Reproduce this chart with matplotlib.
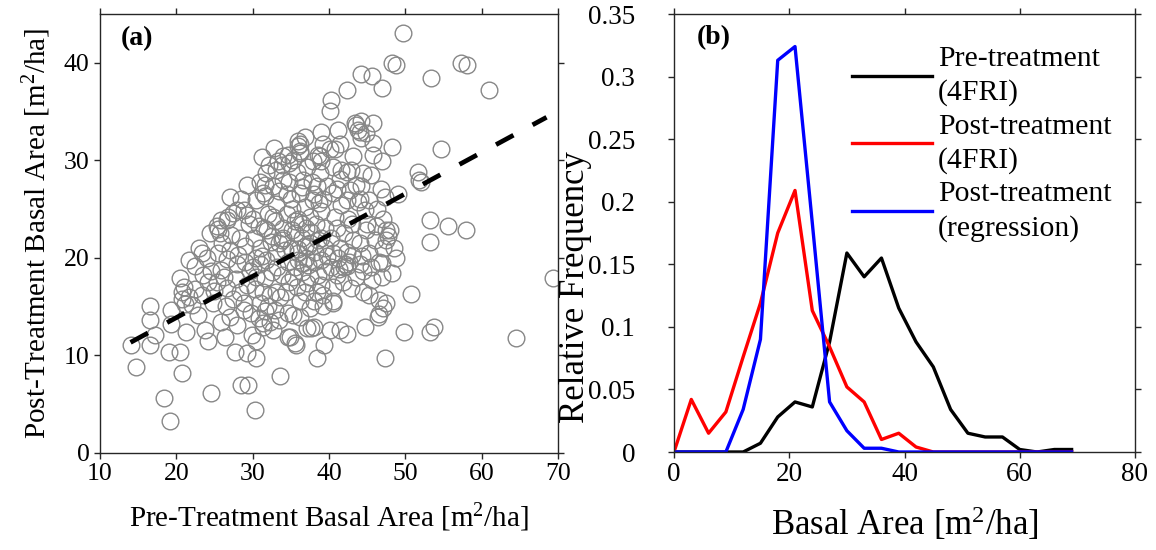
import matplotlib
matplotlib.use("Agg")
import matplotlib.pyplot as plt
from matplotlib.ticker import FuncFormatter

plt.rcParams['font.family'] = ['Liberation Serif', 'DejaVu Serif']
plt.rcParams['mathtext.fontset'] = 'custom'
plt.rcParams['mathtext.rm'] = 'Liberation Serif'
plt.rcParams['mathtext.it'] = 'Liberation Serif:italic'

# ---------------- Panel (a) data: pre vs post treatment basal area ----------------
pre_ba = [
    14.0, 14.7, 16.5, 16.5, 16.5, 17.2, 18.4, 19.2, 19.0, 20.5, 20.7, 19.3, 19.3, 21.3, 20.8,
    21.2, 20.7, 20.5, 21.0, 21.6, 22.4, 23.3, 22.0, 22.9, 23.7, 24.2, 23.5, 24.2, 24.6, 24.6,
    24.4, 25.5, 25.3, 21.6, 22.5, 23.0, 24.0, 24.8, 23.4, 25.3, 25.7,
    25.9, 26.6, 27.0, 28.1, 26.6, 27.4, 28.3, 29.2, 29.6, 26.4, 25.9, 27.0, 27.9, 27.7, 29.2,
    28.5, 29.4, 29.9, 28.8, 28.8, 25.8, 26.8, 27.4, 28.8, 26.0, 27.2, 28.4, 29.0, 29.5, 28.0,
    26.3, 27.8, 25.5, 28.5, 29.2, 27.0, 26.5, 29.8, 29.0, 25.0, 28.0, 29.3, 26.6,
    30.3, 30.5, 30.5, 31.4, 32.3, 31.6, 32.9, 33.6, 30.9, 30.9, 31.6, 31.4, 32.3, 33.1, 32.7,
    31.4, 34.9, 33.6, 34.4, 30.5, 31.4, 32.7, 34.0, 31.8, 33.1, 33.8, 34.6, 34.0, 30.2, 31.0,
    31.5, 32.0, 32.5, 33.0, 33.5, 34.0, 34.5, 33.0, 34.5, 30.5, 31.8, 32.5, 33.8, 34.6, 34.2,
    30.3, 32.0, 30.8, 33.4, 34.6, 34.8, 31.0, 32.2, 30.0, 33.5, 34.7, 32.8, 31.2, 30.5, 34.0,
    31.6, 31.6, 33.3, 32.7, 30.0, 31.2, 32.4, 33.2, 30.8, 31.9, 32.9, 33.9,
    35.7, 36.2, 37.7, 38.4, 38.1, 39.4, 35.5, 34.6, 35.3, 37.1, 39.2, 38.4, 37.1, 39.2, 36.8,
    36.2, 35.9, 38.5, 39.0, 36.2, 34.8, 37.1, 38.8, 36.6, 36.2, 38.4, 37.9, 39.0, 39.2, 38.8,
    36.0, 37.9, 35.3, 36.2, 39.7, 35.2, 36.0, 36.8, 37.5, 38.3, 39.0, 39.5, 35.5, 36.5, 37.5,
    38.5, 39.5, 35.0, 36.0, 37.0, 38.0, 39.0, 35.5, 36.5, 37.5, 38.5, 39.5, 35.8, 36.8, 38.0,
    36.2, 37.5, 35.5, 37.0, 38.0, 36.5, 35.8, 39.2, 37.8, 35.0, 39.8, 36.0, 37.2, 38.2, 36.8,
    35.3, 39.0, 35.2, 36.4, 37.6, 38.7, 35.9, 37.3, 38.9, 36.6,
    40.3, 40.1, 42.3, 44.2, 43.6, 43.8, 44.2, 44.9, 44.0, 43.4, 44.2, 41.2, 40.8, 41.4, 40.1,
    43.2, 42.9, 41.6, 41.4, 44.2, 42.7, 40.5, 42.3, 44.5, 40.5, 42.3, 41.6, 43.8, 44.7, 44.9,
    40.1, 41.4, 42.3, 40.5, 44.7, 42.9, 42.1, 41.0, 40.5, 44.0, 44.5, 42.3, 42.3, 40.2, 41.0,
    42.0, 43.0, 44.0, 40.5, 41.5, 43.2, 40.8, 42.5, 43.5, 41.0, 44.0, 40.5, 41.8, 43.5, 44.5,
    40.2, 43.0, 41.2, 44.3, 41.9, 42.6, 41.3,
    45.3, 46.6, 47.1, 45.6, 46.6, 47.5, 47.1, 46.4, 48.2, 49.8, 47.3, 45.6, 46.9, 48.2, 48.8,
    49.7, 45.8, 48.2, 46.9, 45.3, 47.1, 47.5, 47.7, 46.2, 45.5, 46.8, 45.8, 48.0, 46.0, 48.5,
    45.2, 47.3, 45.0, 46.3, 48.8, 45.5, 47.0, 45.8, 49.0, 46.6, 47.5, 46.9,
    50.8, 51.6, 51.8, 52.0, 53.4, 57.3, 58.1, 61.0, 54.7, 53.2, 53.2, 55.6, 58.0, 53.2, 53.8,
    64.5, 69.3,
]
post_ba = [
    11.0, 8.8, 15.0, 13.6, 11.0, 12.1, 5.6, 3.2, 10.3, 10.3, 8.2, 14.6, 13.2, 12.4, 15.8,
    15.2, 16.5, 17.9, 17.0, 19.8, 19.1, 20.5, 15.1, 14.1, 12.6, 11.4, 18.2, 17.5, 18.6, 6.1,
    22.5, 22.9, 17.5, 16.0, 16.8, 21.0, 20.0, 15.3, 16.2, 23.2, 22.5,
    18.7, 19.9, 20.8, 20.3, 16.9, 15.8, 16.5, 17.2, 18.6, 11.9, 13.4, 13.9, 13.1, 10.3, 10.2,
    6.9, 6.9, 12.1, 14.6, 15.3, 23.9, 24.2, 24.6, 24.9, 21.5, 22.3, 22.0, 21.2, 23.5, 19.3,
    18.0, 17.8, 20.5, 26.0, 27.5, 26.2, 15.0, 14.3, 19.6, 16.6, 24.9, 24.4, 23.9,
    4.4, 9.7, 11.4, 12.9, 13.4, 14.5, 14.6, 7.8, 15.3, 19.3, 17.9, 16.5, 16.2, 16.5, 12.6,
    13.3, 11.9, 16.0, 16.5, 25.9, 26.6, 27.3, 28.0, 28.7, 29.0, 29.5, 30.5, 30.4, 22.0, 21.0,
    23.0, 24.5, 22.2, 20.5, 21.5, 23.0, 24.5, 25.5, 26.5, 18.0, 19.8, 18.5, 18.2, 19.5, 20.8,
    16.8, 15.0, 13.8, 13.6, 14.3, 17.5, 27.8, 29.5, 24.0, 26.8, 27.8, 31.2, 30.3, 20.0, 22.0,
    26.3, 27.5, 29.9, 24.2, 19.0, 20.2, 21.6, 19.0, 23.2, 22.8, 23.8, 21.8,
    11.0, 13.9, 12.8, 9.7, 12.9, 11.0, 11.2, 11.9, 14.1, 12.8, 16.2, 16.5, 17.4, 15.0, 32.4,
    31.7, 32.0, 30.5, 29.9, 30.7, 29.7, 29.3, 28.7, 28.0, 26.6, 27.3, 25.9, 32.9, 31.7, 30.4,
    31.5, 29.9, 30.0, 30.9, 27.3, 25.0, 24.0, 25.2, 24.2, 23.5, 24.8, 23.0, 22.5, 22.0, 21.5,
    21.8, 21.0, 21.0, 20.5, 20.0, 19.5, 19.8, 19.0, 18.5, 18.0, 18.2, 18.6, 17.0, 16.5, 15.5,
    15.5, 14.8, 23.8, 23.0, 26.5, 27.2, 28.8, 26.0, 27.8, 26.0, 20.2, 19.8, 19.2, 20.6, 21.2,
    18.0, 17.2, 22.8, 23.5, 22.6, 25.6, 20.9, 21.2, 22.0, 19.4,
    36.2, 35.0, 37.2, 38.8, 33.6, 33.1, 34.0, 32.8, 32.9, 33.8, 32.3, 33.1, 31.1, 31.7, 31.1,
    30.4, 29.0, 29.0, 28.1, 27.3, 26.9, 29.3, 28.8, 28.7, 26.6, 25.9, 25.4, 25.7, 24.9, 22.8,
    12.6, 12.6, 12.2, 15.5, 12.9, 16.9, 19.3, 18.2, 15.3, 19.3, 18.6, 19.1, 20.6, 22.0, 23.0,
    22.5, 23.5, 21.5, 20.5, 21.0, 21.8, 24.2, 24.0, 27.5, 27.0, 26.0, 17.0, 17.5, 18.0, 16.5,
    19.0, 20.3, 20.0, 20.2, 19.0, 19.6, 18.8,
    20.5, 19.6, 21.0, 17.7, 15.7, 15.3, 14.8, 13.9, 18.4, 12.4, 9.7, 38.6, 37.4, 40.0, 39.8,
    43.0, 33.8, 31.4, 29.9, 25.9, 24.0, 22.8, 22.2, 23.2, 28.5, 27.0, 31.8, 22.8, 21.8, 21.0,
    16.2, 26.2, 23.5, 25.0, 20.0, 19.0, 18.0, 30.5, 26.5, 14.2, 21.8, 19.4,
    16.3, 28.8, 28.0, 27.8, 38.4, 40.0, 39.8, 37.2, 31.1, 23.9, 21.6, 23.2, 22.8, 12.4, 12.9,
    11.7, 17.9,
]
fit_x = [14.0, 68.5]
fit_y = [11.3, 34.4]

# ---------------- Panel (b) data: relative frequency ----------------
bins = [0, 3, 6, 9, 12, 15, 18, 21, 24, 27, 30, 33, 36, 39, 42, 45, 48, 51, 54, 57, 60, 63, 66, 69]
pre_4fri = [0, 0, 0, 0, 0, 0.007, 0.028, 0.040, 0.036, 0.088, 0.159, 0.140, 0.155, 0.115,
            0.088, 0.068, 0.034, 0.015, 0.012, 0.012, 0.002, 0.0, 0.002, 0.002]
post_4fri = [0, 0.042, 0.015, 0.032, 0.076, 0.119, 0.175, 0.209, 0.113, 0.084, 0.052, 0.040,
             0.010, 0.015, 0.004, 0, 0, 0, 0, 0, 0, 0, 0, 0]
post_reg = [0, 0, 0, 0, 0.034, 0.090, 0.313, 0.324, 0.183, 0.040, 0.017, 0.003, 0.003, 0,
            0, 0, 0, 0, 0, 0, 0, 0, 0, 0]
legend_labels = ['Pre-treatment\n(4FRI)', 'Post-treatment\n(4FRI)', 'Post-treatment\n(regression)']

W, H = 1156, 550
fig = plt.figure(figsize=(W / 100, H / 100), dpi=100)
axc = '#262626'

def style(ax, fs):
    for s in ax.spines.values():
        s.set_color(axc)
        s.set_linewidth(1.0)
    ax.tick_params(direction='out', length=4, width=1.0, color=axc, labelsize=fs,
                   top=True, right=True, labeltop=False, labelright=False, labelcolor='black')

# Panel (a)
ax1 = fig.add_axes([100 / W, 97.5 / H, 458 / W, 438.5 / H])
ax1.plot(pre_ba, post_ba, linestyle='none', marker='o', markersize=12, markerfacecolor='none',
         markeredgecolor='#878787', markeredgewidth=1.0)
ax1.plot(fit_x, fit_y, color='black', linewidth=3.4, linestyle=(0, (4.2, 4.6)),
         dash_capstyle='butt')
ax1.set_xlim(10, 70)
ax1.set_ylim(0, 45)
ax1.set_xticks([10, 20, 30, 40, 50, 60, 70])
ax1.set_yticks([0, 10, 20, 30, 40])
ax1.set_xlabel(r'Pre-Treatment Basal Area [m$^{2}$/ha]', fontsize=21, labelpad=12)
ax1.set_ylabel(r'Post-Treatment Basal Area [m$^{2}$/ha]', fontsize=21, labelpad=8)
ax1.text(0.045, 0.945, '(a)', transform=ax1.transAxes, fontsize=20, fontweight='bold',
         va='center', ha='left')
style(ax1, 18.5)

# Panel (b)
ax2 = fig.add_axes([674 / W, 98 / H, 461 / W, 438 / H])
l1, = ax2.plot(bins, pre_4fri, color='black', linewidth=2.4)
l2, = ax2.plot(bins, post_4fri, color='#ff0000', linewidth=2.4)
l3, = ax2.plot(bins, post_reg, color='#0000ff', linewidth=2.4)
ax2.set_xlim(0, 80)
ax2.set_ylim(0, 0.35)
ax2.set_xticks([0, 20, 40, 60, 80])
ax2.set_yticks([0, 0.05, 0.1, 0.15, 0.2, 0.25, 0.3, 0.35])
ax2.yaxis.set_major_formatter(FuncFormatter(lambda v, p: '%g' % round(v, 2)))
ax2.set_xlabel(r'Basal Area [m$^{2}$/ha]', fontsize=25, labelpad=13)
ax2.set_ylabel('Relative Frequency', fontsize=25)
ax2.yaxis.set_label_coords(-0.178, 0.377)
ax2.text(0.05, 0.945, '(b)', transform=ax2.transAxes, fontsize=20, fontweight='bold',
         va='center', ha='left')
style(ax2, 19.5)
ax2.tick_params(axis='y', pad=24)
leg = ax2.legend([l1, l2, l3], legend_labels, loc='upper left', bbox_to_anchor=(0.34, 0.975),
                 frameon=False, fontsize=21.4, handlelength=2.7, handletextpad=0.2,
                 labelspacing=0.25, borderaxespad=0.3)
for t in leg.get_texts():
    t.set_linespacing(1.36)

fig.savefig('out.png', dpi=100)
